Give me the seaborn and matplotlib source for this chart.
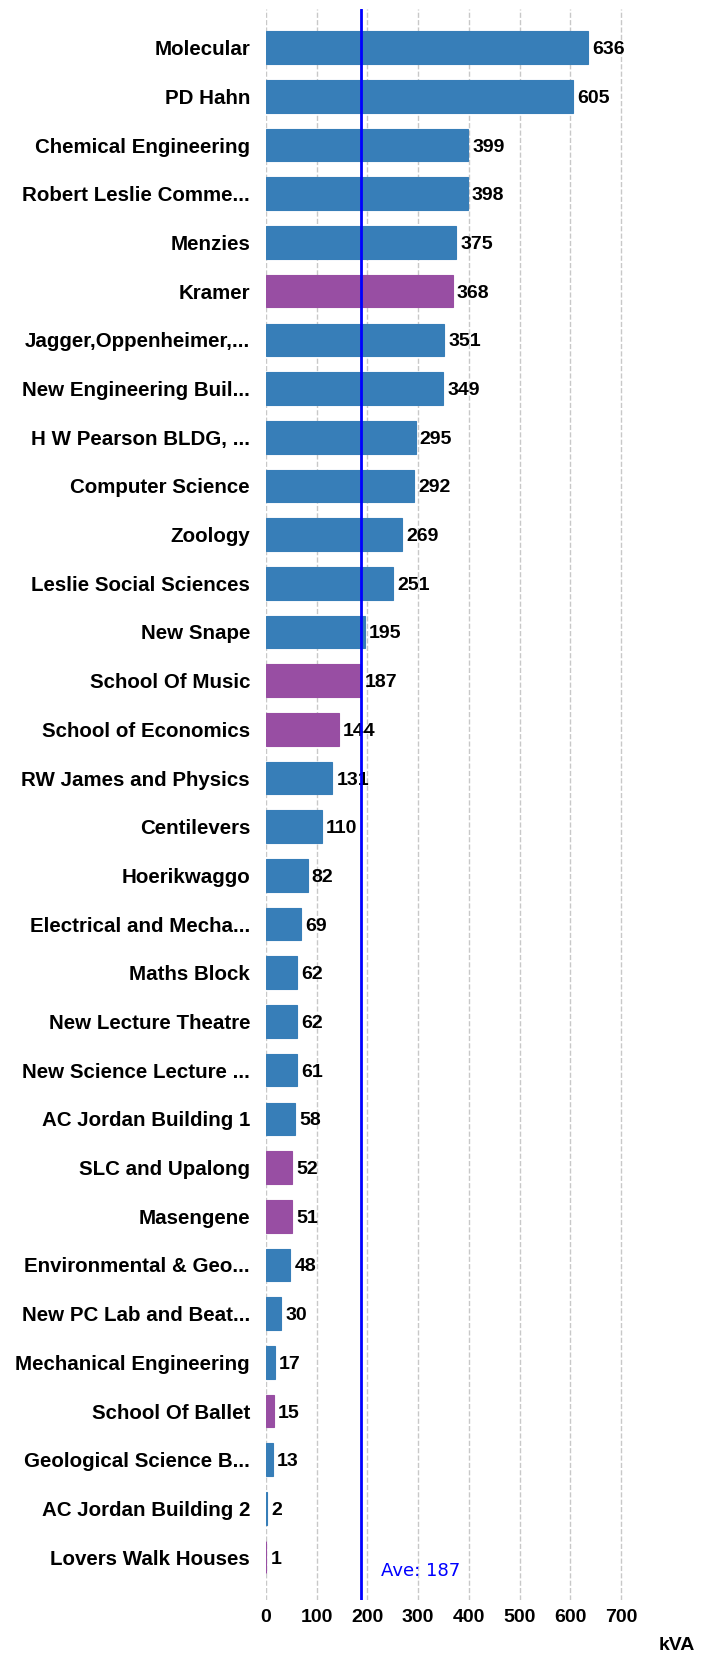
import matplotlib
matplotlib.use("Agg")
import matplotlib.pyplot as plt
import seaborn as sns
import pandas as pd

buildings = ['Molecular', 'PD Hahn', 'Chemical Engineering', 'Robert Leslie Comme...',
             'Menzies', 'Kramer', 'Jagger,Oppenheimer,...', 'New Engineering Buil...',
             'H W Pearson BLDG, ...', 'Computer Science', 'Zoology', 'Leslie Social Sciences',
             'New Snape', 'School Of Music', 'School of Economics', 'RW James and Physics',
             'Centilevers', 'Hoerikwaggo', 'Electrical and Mecha...', 'Maths Block',
             'New Lecture Theatre', 'New Science Lecture ...', 'AC Jordan Building 1',
             'SLC and Upalong', 'Masengene', 'Environmental & Geo...', 'New PC Lab and Beat...',
             'Mechanical Engineering', 'School Of Ballet', 'Geological Science B...',
             'AC Jordan Building 2', 'Lovers Walk Houses']
kva = [636, 605, 399, 398, 375, 368, 351, 349, 295, 292, 269, 251, 195, 187, 144, 131,
       110, 82, 69, 62, 62, 61, 58, 52, 51, 48, 30, 17, 15, 13, 2, 1]
group = ['a', 'a', 'a', 'a', 'a', 'b', 'a', 'a', 'a', 'a', 'a', 'a', 'a', 'b', 'b', 'a',
         'a', 'a', 'a', 'a', 'a', 'a', 'a', 'b', 'b', 'a', 'a', 'a', 'b', 'a', 'a', 'b']
average = 187
xticks = [0, 100, 200, 300, 400, 500, 600, 700]

df = pd.DataFrame({'building': buildings, 'kva': kva, 'group': group})

sns.set_style('white')
plt.rcParams['font.family'] = ['Liberation Sans', 'DejaVu Sans']
plt.rcParams['text.color'] = 'black'
plt.rcParams['xtick.labelcolor'] = 'black'
plt.rcParams['ytick.labelcolor'] = 'black'

fig = plt.figure(figsize=(7.15, 16.54), dpi=100)
ax = fig.add_axes([0.372, 0.0327, 0.539, 0.962])

sns.barplot(data=df, x='kva', y='building', hue='group',
            palette={'a': '#377eb8', 'b': '#984ea3'}, dodge=False,
            width=0.67, legend=False, ax=ax, saturation=1, linewidth=0.8)
# thin edge in the bar colour so the 1-2 kVA bars still show up
for p in ax.patches:
    p.set_edgecolor(p.get_facecolor())

for c in ax.containers:
    labels = ax.bar_label(c, fmt='{:.0f}', padding=3, fontsize=14, fontweight='bold', color='black')
    for t in labels:
        t.set_va('center_baseline')

ax.axvline(average, color='#0000ff', lw=2, zorder=3)
ax.text(226, 31.29, 'Ave: %d' % average, color='#0000ff', fontsize=13,
        family='DejaVu Sans', va='center', ha='left')

ax.set_xlim(0, 760)
ax.set_ylim(31.88, -0.8)
ax.set_xticks(xticks)
ax.xaxis.grid(True, color='#c8c8c8', linestyle='--', lw=1)
ax.set_axisbelow(True)
for s in ax.spines.values():
    s.set_visible(False)
ax.set_xlabel('')
ax.set_ylabel('')
ax.tick_params(axis='x', length=2.5, color='#f5a04a', pad=4, labelsize=14)
ax.tick_params(axis='y', length=0, pad=11.5, labelsize=14.8)
for lab in ax.get_xticklabels() + ax.get_yticklabels():
    lab.set_fontweight('bold')

fig.text(677 / 715, 0.0054, 'kVA', ha='center', va='center', fontsize=14, fontweight='bold')

fig.savefig('out.png', dpi=100)
